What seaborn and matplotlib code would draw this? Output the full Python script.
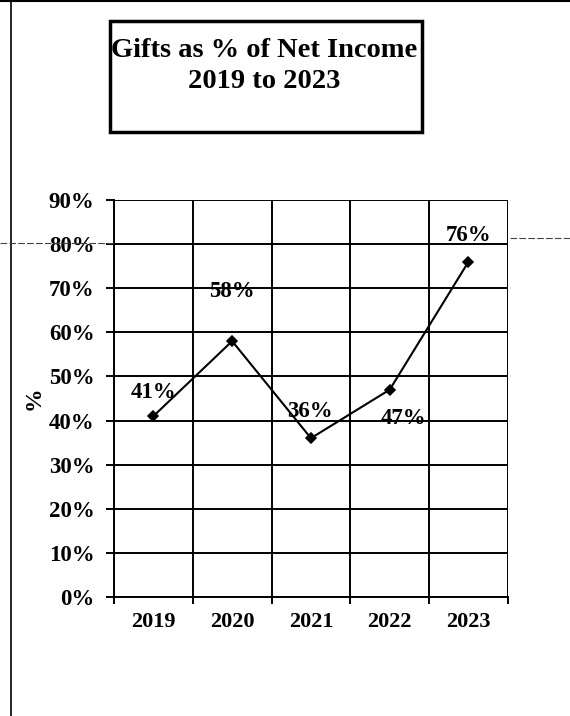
import matplotlib
matplotlib.use("Agg")
import matplotlib.pyplot as plt
from matplotlib.patches import Rectangle
from matplotlib.lines import Line2D
from matplotlib.ticker import FixedLocator, PercentFormatter
import seaborn as sns
import pandas as pd

# Data
years = ["2019", "2020", "2021", "2022", "2023"]
gift_share = [0.41, 0.58, 0.36, 0.47, 0.76]
value_labels = ["41%", "58%", "36%", "47%", "76%"]
y_ticks = [0.0, 0.1, 0.2, 0.3, 0.4, 0.5, 0.6, 0.7, 0.8, 0.9]

# Label placement (offsets in points from each marker)
label_offsets = [(0, 17), (0, 36), (-1, 19), (10, -21), (0, 19)]

sns.set_theme(style="white")
plt.rcParams["font.family"] = ["Liberation Serif", "DejaVu Serif"]
plt.rcParams["font.weight"] = "bold"

df = pd.DataFrame({"Year": years, "Share": gift_share})

fig = plt.figure(figsize=(5.7, 7.16), dpi=100)
ax = fig.add_axes([0.2, 0.1662, 0.891 - 0.2, 0.7207 - 0.1662])

sns.pointplot(data=df, x="Year", y="Share", color="black", markers="D",
              linestyles="-", linewidth=1.5, markersize=5.5, ax=ax, errorbar=None)

ax.set_xlim(-0.5, len(years) - 0.5)
ax.set_ylim(0, 0.9)
ax.yaxis.set_major_locator(FixedLocator(y_ticks))
ax.yaxis.set_major_formatter(PercentFormatter(1.0, decimals=0))

# Grid: horizontal at each tick, vertical at category boundaries
ax.set_xticks([i - 0.5 for i in range(len(years) + 1)], minor=True)
ax.grid(True, axis="y", which="major", color="black", linewidth=1.4)
ax.grid(True, axis="x", which="minor", color="black", linewidth=1.4)
ax.grid(False, axis="x", which="major")
ax.set_axisbelow(True)

for side in ["top", "right"]:
    ax.spines[side].set_visible(False)
for side in ["left", "bottom"]:
    ax.spines[side].set_color("black")
    ax.spines[side].set_linewidth(1.4)

ax.tick_params(axis="y", which="major", direction="out", length=6, width=1.4,
               color="black", labelsize=16.5, pad=8, left=True)
ax.tick_params(axis="x", which="major", length=0, labelsize=16, pad=11)
ax.tick_params(axis="x", which="minor", direction="out", length=5, width=1.4,
               color="black", bottom=True)
for lbl in ax.get_xticklabels() + ax.get_yticklabels():
    lbl.set_fontweight("bold")
    lbl.set_color("black")

ax.set_xlabel("")
ax.set_ylabel("%", fontsize=17, fontweight="bold", color="black", labelpad=3)

for i, (v, txt) in enumerate(zip(gift_share, value_labels)):
    dx, dy = label_offsets[i]
    ax.annotate(txt, (i, v), xytext=(dx, dy), textcoords="offset points",
                ha="center", va="center", fontsize=16.5, fontweight="bold",
                color="black")

# Title box
fig.patches.append(Rectangle((0.193, 0.8156), 0.547, 0.155, transform=fig.transFigure,
                             fill=False, edgecolor="black", linewidth=2.5))
fig.text(0.464, 0.929, "Gifts as % of Net Income", ha="center", va="center",
         fontsize=20.5, fontweight="bold", color="black")
fig.text(0.464, 0.886, "2019 to 2023", ha="center", va="center",
         fontsize=20.5, fontweight="bold", color="black")

# Page frame: left rule, top rule, and the faint line crossing the sheet
fig.lines.append(Line2D([0.019, 0.019], [0, 1], transform=fig.transFigure,
                        color="black", linewidth=1.2))
fig.lines.append(Line2D([0, 1], [0.998, 0.998], transform=fig.transFigure,
                        color="black", linewidth=1.5))
fig.lines.append(Line2D([0, 0.2], [1 - 243 / 716, 1 - 243 / 716], transform=fig.transFigure,
                        color="#444444", linewidth=0.8, linestyle=(0, (6, 2))))
fig.lines.append(Line2D([0.894, 1], [1 - 238 / 716, 1 - 238 / 716], transform=fig.transFigure,
                        color="#444444", linewidth=0.8, linestyle=(0, (6, 2))))

fig.savefig("out.png", dpi=100, facecolor="white")
